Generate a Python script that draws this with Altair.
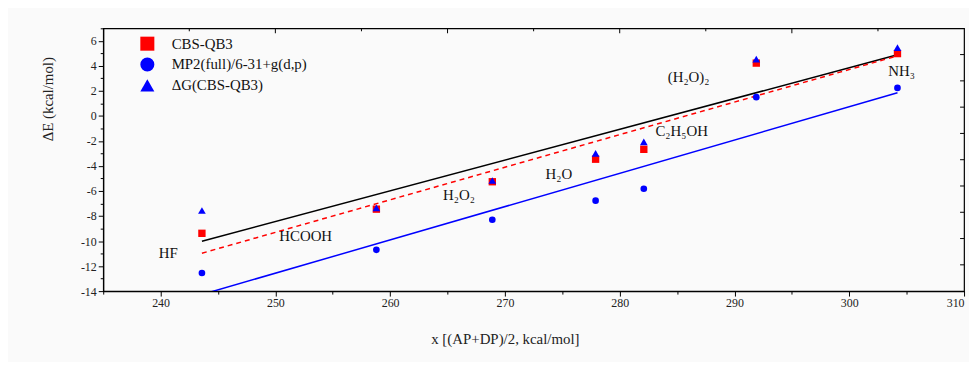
import altair as alt
import pandas as pd

# ---------------- data ----------------
molecules = ["HF", "HCOOH", "H2O2", "H2O", "C2H5OH", "(H2O)2", "NH3"]
x_vals = [243.6, 258.8, 268.9, 277.9, 282.1, 291.9, 304.2]
cbs_qb3 = [-9.38, -7.45, -5.26, -3.46, -2.67, 4.22, 4.98]
mp2 = [-12.55, -10.70, -8.30, -6.77, -5.82, 1.50, 2.24]
dg_cbs = [-7.56, -7.35, -5.16, -2.99, -2.07, 4.54, 5.46]

series_names = ["CBS-QB3", "MP2(full)/6-31+g(d,p)", "ΔG(CBS-QB3)"]

# fitted lines (end points)
fit_x = [243.6, 304.2]
fit_black = [-10.02, 4.88]
fit_red = [-10.97, 4.80]
fit_blue = [-14.27, 1.85]

label_text = ["HF", "HCOOH", "H₂O₂", "H₂O", "C₂H₅OH", "(H₂O)₂", "NH₃"]
label_x = [240.67, 252.64, 266.0, 274.7, 285.4, 286.0, 304.56]
label_y = [-10.97, -9.59, -6.29, -4.62, -1.22, 3.14, 3.60]

x_ticks = [235, 240, 245, 250, 255, 260, 265, 270, 275, 280, 285, 290, 295, 300, 305, 310]
y_ticks = [-14, -13, -12, -11, -10, -9, -8, -7, -6, -5, -4, -3, -2, -1, 0, 1, 2, 3, 4, 5, 6, 7]
top_major = [250, 265, 280, 295]
top_minor = [242.5, 257.5, 272.5, 287.5, 302.5]
right_ticks = [4.9, 2.8, 0.7, -1.4, -3.5, -5.6, -7.7, -9.8, -11.9]

# ---------------- tables ----------------
sq_df = pd.DataFrame({"x": x_vals, "y": cbs_qb3, "series": series_names[0]})
ci_df = pd.DataFrame({"x": x_vals, "y": mp2, "series": series_names[1]})
tr_df = pd.DataFrame({"x": x_vals, "y": dg_cbs, "series": series_names[2]})
fit_df = pd.DataFrame({"x": fit_x, "black": fit_black, "red": fit_red, "blue": fit_blue})
lab_df = pd.DataFrame({"x": label_x, "y": label_y, "t": label_text})
top_maj_df = pd.DataFrame({"x": top_major})
top_min_df = pd.DataFrame({"x": top_minor})
right_df = pd.DataFrame({"y": right_ticks})

W, H = 868, 265
SERIF = "Liberation Serif"

xs = alt.Scale(domain=[235, 310], nice=False, zero=False)
ys = alt.Scale(domain=[-14, 7], nice=False, zero=False)
color_scale = alt.Scale(domain=series_names, range=["#ff0000", "#0000ff", "#0000ff"])
shape_scale = alt.Scale(domain=series_names, range=["square", "circle", "triangle-up"])

x_axis = alt.Axis(
    values=x_ticks,
    title="x [(AP+DP)/2, kcal/mol]",
    labelExpr="datum.value % 10 == 0 ? '' + datum.value : ''",
    tickSize={"condition": {"test": "datum.value % 10 == 0", "value": 5}, "value": 3},
    labelOverlap=False,
    labelFont=SERIF, labelFontSize=12, labelColor="#222", labelPadding=2,
    titleFont=SERIF, titleFontSize=15, titleFontWeight="normal", titleColor="#222",
    titleX=405, titleY=48, titleAnchor="middle", titleBaseline="middle",
    grid=False, domainColor="black", tickColor="black", domainWidth=1.2,
)
y_axis = alt.Axis(
    values=y_ticks,
    title="ΔE (kcal/mol)",
    labelExpr="abs(datum.value) % 2 == 0 ? '' + datum.value : ''",
    tickSize={"condition": {"test": "abs(datum.value) % 2 == 0", "value": 5}, "value": 3},
    labelOverlap=False,
    labelFont=SERIF, labelFontSize=12, labelColor="#222", labelPadding=2,
    titleFont=SERIF, titleFontSize=15, titleFontWeight="normal", titleColor="#222",
    titleX=-56, titleY=71, titleAngle=270, titleAnchor="middle", titleBaseline="middle",
    grid=False, domainColor="black", tickColor="black", domainWidth=1.2,
)

legend = alt.Legend(
    orient="none", legendX=37, legendY=8, title=None,
    labelFont=SERIF, labelFontSize=15, labelColor="#111",
    symbolSize=200, labelOffset=17, rowPadding=5, padding=0,
    symbolStrokeWidth=0, symbolOpacity=1,
)

XA = alt.X("x:Q", scale=xs, axis=x_axis)

def YA(field):
    return alt.Y(field, scale=ys, axis=y_axis)

base_fit = alt.Chart(fit_df)
line_black = base_fit.mark_line(color="black", strokeWidth=1.5, clip=True).encode(
    x=XA, y=YA("black:Q"))
line_red = base_fit.mark_line(color="#ff0000", strokeWidth=1.5, strokeDash=[5, 4], clip=True).encode(
    x=XA, y=YA("red:Q"))
line_blue = base_fit.mark_line(color="#0000ff", strokeWidth=1.5, clip=True).encode(
    x=XA, y=YA("blue:Q"))

def point_layer(df, size):
    return alt.Chart(df).mark_point(filled=True, opacity=1, size=size).encode(
        x=XA, y=YA("y:Q"),
        color=alt.Color("series:N", scale=color_scale, legend=legend),
        shape=alt.Shape("series:N", scale=shape_scale, legend=legend),
    )

squares = point_layer(sq_df, 55)
circles = point_layer(ci_df, 45)
triangles = point_layer(tr_df, 60)

labels = alt.Chart(lab_df).mark_text(
    font=SERIF, fontSize=15, color="#111", align="center", baseline="middle"
).encode(x=XA, y=YA("y:Q"), text="t:N")

top_maj = alt.Chart(top_maj_df).mark_rule(color="black", strokeWidth=1).encode(
    x=XA, y=alt.value(0), y2=alt.value(5))
top_min = alt.Chart(top_min_df).mark_rule(color="black", strokeWidth=1).encode(
    x=XA, y=alt.value(0), y2=alt.value(3))
right_t = alt.Chart(right_df).mark_rule(color="black", strokeWidth=1).encode(
    y=YA("y:Q"), x=alt.value(W), x2=alt.value(W - 4))

chart = alt.layer(
    line_black, line_red, line_blue, squares, circles, triangles, labels,
    top_maj, top_min, right_t,
).properties(
    width=W, height=H,
    autosize=alt.AutoSizeParams(type="none"),
    padding={"left": 96, "top": 19, "right": 5, "bottom": 70},
    background="#fafafa",
).configure_view(
    stroke="black", strokeWidth=1.2,
)

chart.save("out.html", embed_options={"renderer": "svg", "actions": False})
